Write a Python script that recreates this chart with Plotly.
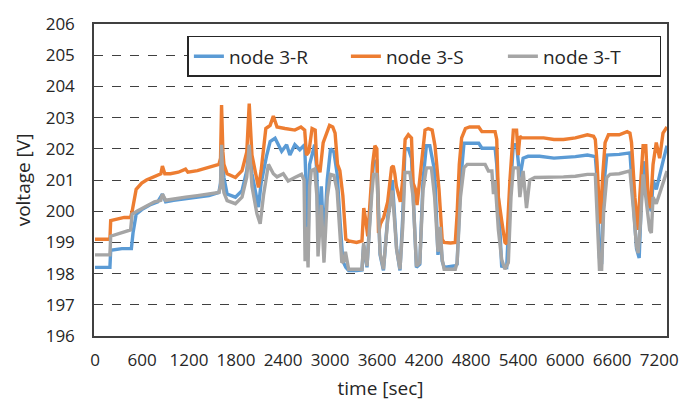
import plotly.graph_objects as go

# time [sec], voltage [V]
node_R = [(0,198.2),(190,198.2),(200,198.75),(342,198.8),(464,198.8),(485,199.3),(525,199.9),(596,200.05),(698,200.2),(800,200.3),(860,200.55),(901,200.3),(1003,200.35),(1155,200.4),(1307,200.45),(1455,200.5),
 (1581,200.6),(1602,200.9),(1615,202.0),(1632,201.2),(1645,201.08),(1686,200.55),(1792,200.45),(1876,200.66),(1937,201.3),(1968,202.1),(2003,201.2),(2086,200.13),(2120,200.9),(2192,201.8),(2235,202.23),(2298,202.34),(2382,201.92),(2445,202.13),(2487,201.8),(2550,202.13),(2613,201.97),(2676,202.13),(2699,200.5),(2719,199.0),(2739,201.5),(2803,202.13),(2831,201.3),(2846,199.2),(2888,200.8),(2922,199.0),(2964,201.0),(3006,202.0),(3049,201.9),(3090,201.2),(3132,199.5),(3163,198.4),(3201,198.2),(3237,198.1),(3338,198.1),(3407,198.12),(3428,198.9),(3471,198.2),(3531,200.8),(3555,201.6),(3597,201.6),(3638,198.6),(3681,198.1),(3735,199.8),(3795,201.0),(3849,198.8),(3892,198.1),(3927,199.8),(3955,202.0),(3999,202.0),(4039,201.7),(4060,200.6),(4102,198.2),(4145,198.3),(4186,201.0),(4229,202.1),(4273,202.1),(4334,201.3),(4377,198.6),(4405,199.3),(4431,198.4),(4456,198.2),(4598,198.25),(4621,198.3),(4664,200.9),(4709,202.18),(4897,202.18),(4938,202.02),(5106,202.02),(5127,201.5),(5148,200.2),(5190,198.24),(5254,198.2),(5295,200.45),(5339,202.13),(5380,202.13),(5422,201.08),(5464,201.7),(5527,201.76),(5674,201.76),(5857,201.7),(5979,201.72),(6131,201.75),(6284,201.8),(6385,201.75),(6406,201.1),(6438,198.5),(6466,198.3),(6490,200.7),(6531,201.8),(6573,201.8),(6690,201.82),(6827,201.87),(6869,200.45),(6911,198.8),(6945,198.5),(6974,200.45),(7016,201.6),(7059,200.3),(7100,200.0),(7122,201.0),(7163,200.7),(7206,201.2),(7249,201.6),(7300,202.1)]

node_S = [(0,199.1),(190,199.1),(200,199.7),(292,199.75),(373,199.8),(454,199.8),(474,200.0),(525,200.7),(596,200.9),(657,201.0),(759,201.1),(840,201.2),(860,201.45),(891,201.2),(962,201.2),(1064,201.25),(1155,201.35),(1185,201.25),(1307,201.3),(1455,201.4),
 (1581,201.5),(1602,201.7),(1615,203.4),(1632,201.9),(1645,201.5),(1686,201.2),(1792,201.08),(1876,201.3),(1937,201.9),(1968,203.45),(2003,201.8),(2086,200.76),(2120,201.3),(2180,202.65),(2235,202.75),(2276,203.05),(2323,202.7),(2424,202.65),(2550,202.6),(2628,202.7),(2676,202.6),(2699,201.8),(2729,201.9),(2770,202.65),(2810,202.6),(2831,201.5),(2871,201.25),(2912,202.2),(2947,202.45),(2993,202.75),(3034,202.7),(3064,202.5),(3095,201.5),(3125,201.3),(3163,200.5),(3201,199.1),(3237,199.05),(3338,199.0),(3407,199.05),(3430,200.1),(3450,199.8),(3481,199.2),(3542,201.5),(3572,202.1),(3597,202.0),(3618,199.3),(3643,199.6),(3684,199.8),(3735,200.3),(3785,201.4),(3806,201.45),(3826,201.2),(3846,200.8),(3897,200.3),(3927,201.0),(3958,202.3),(3999,202.45),(4039,202.35),(4060,200.9),(4090,200.7),(4110,200.2),(4141,200.9),(4171,201.5),(4212,202.6),(4252,202.65),(4303,202.6),(4339,202.1),(4390,200.7),(4431,199.1),(4456,199.0),(4537,198.98),(4598,199.0),(4621,199.9),(4649,201.5),(4679,202.35),(4727,202.65),(4781,202.7),(4897,202.7),(4938,202.55),(5024,202.55),(5106,202.55),(5127,202.3),(5148,200.45),(5190,199.7),(5232,199.0),(5254,198.95),(5295,200.97),(5339,202.6),(5380,202.6),(5401,201.8),(5422,202.4),(5444,202.35),(5573,202.35),(5725,202.35),(5857,202.3),(5979,202.3),(6131,202.35),(6284,202.45),(6363,202.4),(6385,202.3),(6406,201.6),(6446,199.6),(6481,201.2),(6510,202.2),(6553,202.45),(6690,202.45),(6791,202.55),(6827,202.5),(6847,202.2),(6890,200.45),(6932,199.4),(6953,200.5),(6995,202.1),(7029,202.1),(7059,200.5),(7088,200.1),(7122,201.5),(7163,202.2),(7206,201.7),(7249,202.5),(7300,202.7)]

node_T = [(0,198.6),(190,198.6),(200,199.2),(342,199.3),(454,199.4),(474,199.9),(535,200.0),(647,200.15),(759,200.3),(840,200.35),(860,200.55),(901,200.35),(1003,200.4),(1155,200.45),(1307,200.5),(1455,200.55),
 (1581,200.6),(1602,200.8),(1615,202.13),(1632,200.9),(1645,200.6),(1686,200.34),(1792,200.24),(1876,200.45),(1937,201.1),(1968,202.13),(2003,200.8),(2066,199.92),(2108,199.6),(2150,200.5),(2213,201.5),(2276,201.2),(2323,201.1),(2403,201.2),(2465,200.97),(2550,201.08),(2635,201.18),(2668,201.0),(2681,198.4),(2699,199.5),(2719,198.2),(2739,200.8),(2760,201.3),(2803,201.35),(2831,200.5),(2846,198.55),(2888,200.2),(2922,198.35),(2964,200.45),(3006,201.18),(3049,201.15),(3090,200.66),(3132,199.19),(3150,198.35),(3176,198.4),(3196,198.7),(3237,198.14),(3338,198.14),(3407,198.14),(3428,198.98),(3471,198.24),(3531,200.5),(3555,201.18),(3597,201.18),(3638,198.66),(3681,198.14),(3735,199.7),(3795,200.66),(3849,198.77),(3892,198.14),(3927,199.5),(3955,201.24),(4019,201.24),(4060,200.45),(4102,198.24),(4145,198.35),(4186,200.66),(4229,201.39),(4293,201.39),(4334,200.45),(4377,198.7),(4405,199.5),(4431,198.45),(4456,198.14),(4598,198.14),(4621,198.35),(4664,200.45),(4709,201.39),(4750,201.5),(4979,201.5),(5021,201.29),(5065,201.29),(5085,200.55),(5106,200.97),(5127,200.13),(5148,199.4),(5190,198.45),(5232,198.14),(5275,198.35),(5309,200.45),(5339,201.39),(5400,201.39),(5422,200.45),(5464,201.29),(5507,200.1),(5548,201.0),(5613,201.08),(5776,201.08),(5857,201.08),(5979,201.1),(6131,201.12),(6284,201.18),(6385,201.18),(6406,200.13),(6438,198.14),(6466,198.14),(6490,199.92),(6531,201.08),(6573,201.18),(6690,201.2),(6827,201.29),(6869,200.13),(6911,198.87),(6932,198.66),(6961,199.6),(6995,201.18),(7037,200.24),(7079,199.4),(7100,199.3),(7122,200.45),(7163,200.24),(7206,200.55),(7268,201.08),(7300,201.29)]

series_names = ["node 3-R", "node 3-S", "node 3-T"]
series_colors = ["#5B9BD5", "#ED7D31", "#A5A5A5"]
x_ticks = list(range(0, 7201, 600))
y_ticks = list(range(196, 207))

fig = go.Figure()
for name, color, pts in zip(series_names, series_colors, [node_R, node_S, node_T]):
    t, v = zip(*pts)
    fig.add_trace(go.Scatter(x=list(t), y=list(v), mode="lines", name=name,
                             line=dict(color=color, width=3.4)))

font_family = "Open Sans, Noto Sans, sans-serif"
fig.update_layout(
    width=691, height=410,
    margin=dict(l=94, r=19, t=16, b=74),
    paper_bgcolor="white", plot_bgcolor="white",
    font=dict(family=font_family, size=17, color="#262626"),
    legend=dict(orientation="h", x=0.163, y=0.962, xanchor="left", yanchor="top",
                bgcolor="white", bordercolor="#262626", borderwidth=1.5,
                font=dict(size=19), entrywidth=112, entrywidthmode="pixels",
                tracegroupgap=0),
    showlegend=True,
)
fig.update_xaxes(range=[-13, 7300], tickvals=x_ticks, ticktext=[str(v) for v in x_ticks],
                 showgrid=False, zeroline=False, showline=True, mirror=True,
                 linecolor="#404040", linewidth=1.5, ticks="",
                 ticklabelstandoff=8, tickfont=dict(size=17),
                 title=dict(text="time [sec]", font=dict(size=19), standoff=12))
fig.update_yaxes(range=[196, 206], tickvals=y_ticks, showgrid=True,
                 gridcolor="#404040", griddash="dash", gridwidth=1.2,
                 zeroline=False, showline=True, mirror=True,
                 linecolor="#404040", linewidth=1.5, ticks="",
                 ticklabelstandoff=14, tickfont=dict(size=17),
                 title=dict(text="voltage [V]", font=dict(size=19), standoff=10))

fig.write_html("out.html")
